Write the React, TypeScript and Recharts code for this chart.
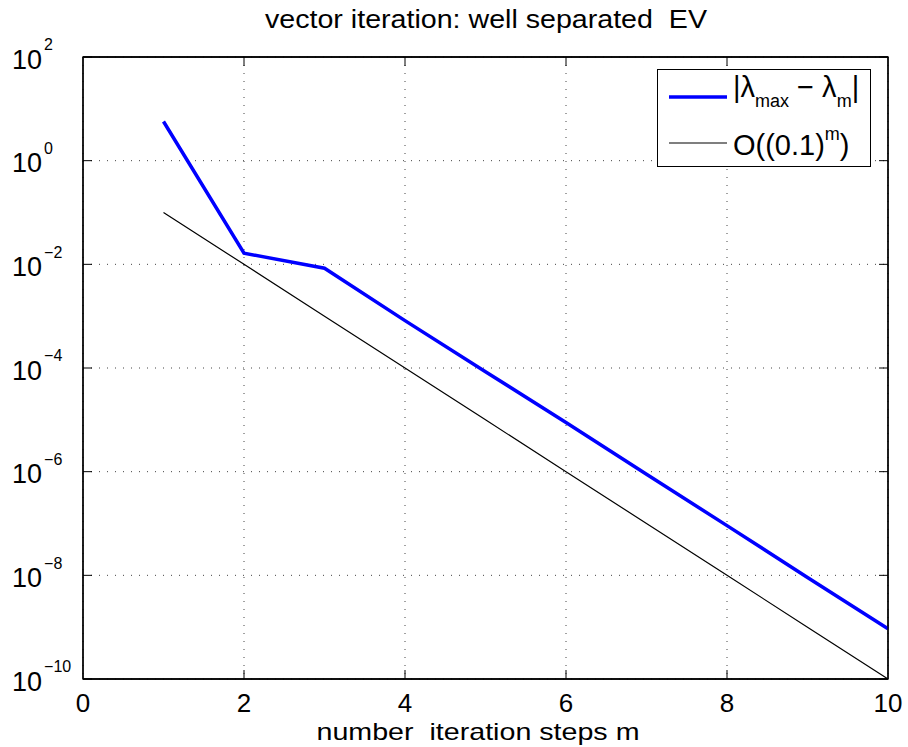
import React from 'react';
import { LineChart, Line, XAxis, YAxis, CartesianGrid, Legend, Label, ReferenceArea } from 'recharts';

// iteration step m
const steps = [1, 2, 3, 4, 5, 6, 7, 8, 9, 10];
// |lambda_max - lambda_m|
const errorValues = [5.7, 0.0164, 0.0084, 8.2e-4, 8.5e-5, 8.9e-6, 8.9e-7, 9.1e-8, 9.1e-9, 9.3e-10];
// reference slope O((0.1)^m)
const refValues = [1e-1, 1e-2, 1e-3, 1e-4, 1e-5, 1e-6, 1e-7, 1e-8, 1e-9, 1e-10];

const xTicks = [0, 2, 4, 6, 8, 10];
const yTicks = [1e-10, 1e-8, 1e-6, 1e-4, 1e-2, 1e0, 1e2];
const xDomain = [0, 10];
const yDomain = [1e-10, 100];

const data = steps.map((m, i) => ({ m, err: errorValues[i], ref: refValues[i] }));

const FONT = '"Liberation Sans", Arial, Helvetica, sans-serif';
const PLOT = { left: 83, right: 888, top: 57, bottom: 679 };
const TICK_LEN = 9;

const expLabel = (v: number) => {
  const e = Math.round(Math.log10(v));
  return e < 0 ? '\u2212' + Math.abs(e) : String(e);
};

const BottomTick = (props: any) => {
  const { x, payload } = props;
  const inner = payload.value !== 0 && payload.value !== 10;
  return (
    <g>
      {inner && <path d={`M${x},${PLOT.bottom}L${x},${PLOT.bottom - TICK_LEN}`} stroke="#000" fill="none" />}
      <text x={x} y={712} textAnchor="middle" fontSize={26} fontFamily={FONT} fill="#000">
        {payload.value}
      </text>
    </g>
  );
};

const TopTick = (props: any) => {
  const { x, payload } = props;
  if (payload.value === 0 || payload.value === 10) return <g />;
  return <path d={`M${x},${PLOT.top}L${x},${PLOT.top + TICK_LEN}`} stroke="#000" fill="none" />;
};

const LeftTick = (props: any) => {
  const { y, payload } = props;
  return (
    <g>
      <path d={`M${PLOT.left},${y}L${PLOT.left + TICK_LEN},${y}`} stroke="#000" fill="none" />
      <text x={12} y={y + 11.6} fontSize={27} fontFamily={FONT} fill="#000">
        10
        <tspan fontSize={16} dx={2} dy={-18.3}>
          {expLabel(payload.value)}
        </tspan>
      </text>
    </g>
  );
};

const RightTick = (props: any) => {
  const { y } = props;
  return <path d={`M${PLOT.right},${y}L${PLOT.right - TICK_LEN},${y}`} stroke="#000" fill="none" />;
};

const renderTitle = () => (
  <text
    x={486}
    y={28}
    textAnchor="middle"
    fontSize={25}
    fontFamily={FONT}
    fill="#000"
    textLength={442}
    lengthAdjust="spacingAndGlyphs"
    style={{ whiteSpace: 'pre' }}
  >
    {'vector iteration: well separated  EV'}
  </text>
);

const renderXLabel = () => (
  <text
    x={478}
    y={740}
    textAnchor="middle"
    fontSize={24}
    fontFamily={FONT}
    fill="#000"
    textLength={323}
    lengthAdjust="spacingAndGlyphs"
    style={{ whiteSpace: 'pre' }}
  >
    {'number  iteration steps m'}
  </text>
);

const renderLegend = () => (
  <svg width={214} height={98} style={{ display: 'block' }}>
    <rect x={0.5} y={0.5} width={213} height={97} fill="#fff" stroke="#000" />
    <path d="M12,28L70,28" stroke="#0000ff" strokeWidth={3.5} />
    <text x={76} y={28} fontSize={29} fontFamily={FONT} fill="#000" style={{ whiteSpace: 'pre' }}>
      {'|\u03bb'}
      <tspan fontSize={18} dy={10}>max</tspan>
      <tspan fontSize={29} dy={-10}>{' \u2212 \u03bb'}</tspan>
      <tspan fontSize={18} dy={10}>m</tspan>
      <tspan fontSize={29} dy={-10}>|</tspan>
    </text>
    <path d="M12,74L70,74" stroke="#000" strokeWidth={1.2} />
    <text x={76} y={86} fontSize={29} fontFamily={FONT} fill="#000">
      {'O((0.1)'}
      <tspan fontSize={18} dy={-15}>m</tspan>
      <tspan fontSize={29} dy={15}>)</tspan>
    </text>
  </svg>
);

export default function App() {
  return (
    <div style={{ position: 'absolute', left: 0, top: 0, width: 908, height: 747, background: '#fff' }}>
      <LineChart
        width={908}
        height={747}
        data={data}
        margin={{ top: 0, right: 0, bottom: 0, left: 0 }}
        style={{ fontFamily: FONT }}
      >
        <CartesianGrid
          xAxisId="bottom"
          yAxisId="left"
          stroke="#444"
          strokeDasharray="1 7"
          fill="none"
        />
        <XAxis
          xAxisId="bottom"
          dataKey="m"
          type="number"
          domain={xDomain}
          ticks={xTicks}
          interval={0}
          height={68}
          axisLine={{ stroke: '#000', strokeWidth: 1.3 }}
          tickLine={false}
          tick={BottomTick}
        >
          <Label content={renderXLabel} />
        </XAxis>
        <XAxis
          xAxisId="top"
          orientation="top"
          dataKey="m"
          type="number"
          domain={xDomain}
          ticks={xTicks}
          interval={0}
          height={57}
          axisLine={{ stroke: '#000', strokeWidth: 1.3 }}
          tickLine={false}
          tick={TopTick}
        >
          <Label content={renderTitle} />
        </XAxis>
        <YAxis
          yAxisId="left"
          type="number"
          scale="log"
          domain={yDomain}
          allowDataOverflow
          ticks={yTicks}
          interval={0}
          width={83}
          axisLine={{ stroke: '#000', strokeWidth: 1.3 }}
          tickLine={false}
          tick={LeftTick}
        />
        <YAxis
          yAxisId="right"
          orientation="right"
          type="number"
          scale="log"
          domain={yDomain}
          allowDataOverflow
          ticks={yTicks}
          interval={0}
          width={20}
          axisLine={{ stroke: '#000', strokeWidth: 1.3 }}
          tickLine={false}
          tick={RightTick}
        />
        <Line
          xAxisId="bottom"
          yAxisId="left"
          type="linear"
          dataKey="err"
          stroke="#0000ff"
          strokeWidth={3.5}
          dot={false}
          isAnimationActive={false}
        />
        <Line
          xAxisId="bottom"
          yAxisId="left"
          type="linear"
          dataKey="ref"
          stroke="#000"
          strokeWidth={1.2}
          dot={false}
          isAnimationActive={false}
        />
        <ReferenceArea
          xAxisId="bottom"
          yAxisId="left"
          x1={xDomain[0]}
          x2={xDomain[1]}
          y1={yDomain[0]}
          y2={yDomain[1]}
          fill="none"
          stroke="#000"
          strokeWidth={1.3}
          ifOverflow="visible"
        />
        <Legend
          layout="vertical"
          align="center"
          verticalAlign="middle"
          wrapperStyle={{ left: 657, top: 69, width: 214, height: 98 }}
          content={renderLegend}
        />
      </LineChart>
    </div>
  );
}
